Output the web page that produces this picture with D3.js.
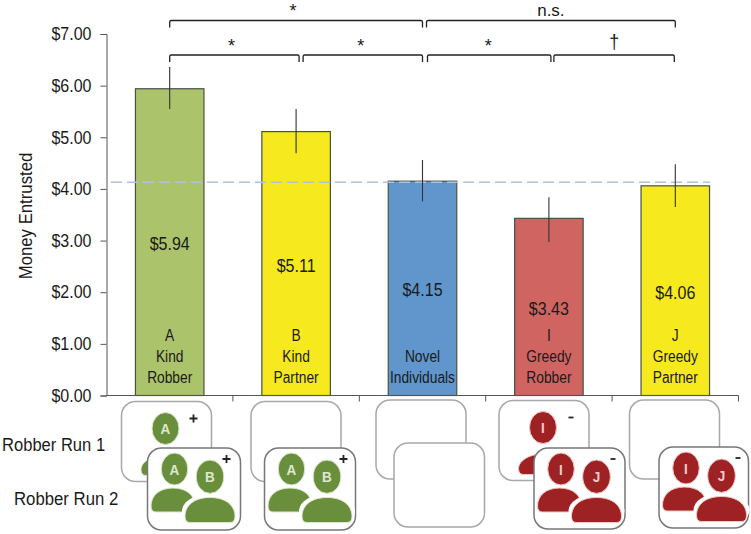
<!DOCTYPE html>
<html>
<head>
<meta charset="utf-8">
<script src="https://cdn.jsdelivr.net/npm/d3@7"></script>
<style>
html,body{margin:0;padding:0;background:#fff}
svg{display:block}
text{font-family:"Liberation Sans",sans-serif;fill:#1a1a1a}
</style>
</head>
<body>
<svg id="c" width="751" height="534"></svg>
<script>
const categories = ["A", "B", "Novel", "I", "J"];
const values = [5.94, 5.11, 4.15, 3.43, 4.06];
const errLow = [5.55, 4.69, 3.76, 2.97, 3.65];
const errHigh = [6.36, 5.55, 4.56, 3.84, 4.48];
const barColors = ["#abc46c", "#f6ea1e", "#6096cc", "#cf6461", "#f6ea1e"];
const labelLines = [["A","Kind","Robber"],["B","Kind","Partner"],["","Novel","Individuals"],["I","Greedy","Robber"],["J","Greedy","Partner"]];
const valueLabels = ["$5.94","$5.11","$4.15","$3.43","$4.06"];
const yTicks = [0,1,2,3,4,5,6,7];
const novelBaseline = 4.13;
const comparisons = [
  {from:0,to:2,level:0,label:"*",off:[0,0],dx:-3},
  {from:2,to:4,level:0,label:"n.s.",off:[4,0],dx:0},
  {from:0,to:1,level:1,label:"*",off:[0,3],dx:-3},
  {from:1,to:2,level:1,label:"*",off:[7,0],dx:-2},
  {from:2,to:3,level:1,label:"*",off:[5,2],dx:-1},
  {from:3,to:4,level:1,label:"†",off:[5,-1],dx:0}
];
const run1Letters = ["A", "", "", "I", ""];
const run1Signs = ["+", "", "", "-", ""];
const run2Letters = [["A","B"],["A","B"],[],["I","J"],["I","J"]];
const run2Signs = ["+","+","","-","-"];
const iconColors = ["#6a8f3c","#6a8f3c","","#9e2224","#9e2224"];
const iconHalos = ["#dfe8cf","#dfe8cf","","#f2c9c4","#f2c9c4"];

const svg = d3.select("#c");
const x = d3.scaleBand().domain(d3.range(categories.length)).range([106.5,738.5]).paddingInner(0.458).paddingOuter(0.229);
const y = d3.scaleLinear().domain([0,7]).range([395.5,34]);
const cx = i => x(i)+x.bandwidth()/2;
const axisColor = "#555";

// y axis
const gy = svg.append("g").attr("transform","translate(106.5,0)")
  .call(d3.axisLeft(y).tickValues(yTicks).tickFormat(d=>"$"+d.toFixed(2)).tickSize(6).tickPadding(9));
gy.selectAll("path,line").attr("stroke",axisColor);
gy.selectAll("text").attr("font-size",18).attr("fill","#1a1a1a").attr("data-sq",0.89).style("font-family",'"Liberation Sans"');

// bars
svg.append("g").selectAll("rect").data(values).join("rect")
  .attr("x",(d,i)=>x(i)).attr("y",d=>y(d))
  .attr("width",x.bandwidth()).attr("height",d=>y(0)-y(d))
  .attr("fill",(d,i)=>barColors[i]).attr("stroke","#4a5048").attr("stroke-width",1.2);

// x axis
const xTickPos = d3.range(categories.length+1).map(i=>106.5+i*x.step());
svg.append("line").attr("x1",106.5).attr("x2",738.5).attr("y1",y(0)).attr("y2",y(0)).attr("stroke",axisColor).attr("stroke-width",1.2);
svg.append("g").selectAll("line").data(xTickPos.slice(1)).join("line")
  .attr("x1",d=>d).attr("x2",d=>d).attr("y1",y(0)).attr("y2",y(0)+6).attr("stroke",axisColor);

// baseline
svg.append("line").attr("x1",111).attr("x2",710).attr("y1",y(novelBaseline)).attr("y2",y(novelBaseline))
  .attr("stroke","#a9c4dc").attr("stroke-width",1.5).attr("stroke-dasharray","11 5");

// error bars
svg.append("g").selectAll("line").data(values).join("line")
  .attr("x1",(d,i)=>cx(i)).attr("x2",(d,i)=>cx(i))
  .attr("y1",(d,i)=>y(errLow[i])).attr("y2",(d,i)=>y(errHigh[i]))
  .attr("stroke","#333").attr("stroke-width",1.1);

// value labels
svg.append("g").selectAll("text").data(values).join("text")
  .attr("x",(d,i)=>cx(i)).attr("y",d=>y(d/2)+8).attr("data-sq",0.89)
  .attr("text-anchor","middle").attr("font-size",18).text((d,i)=>valueLabels[i]);

// category labels
labelLines.forEach((lines,i)=>{
  lines.forEach((t,k)=>{
    if(!t) return;
    svg.append("text").attr("x",cx(i)).attr("y",341+k*21).attr("text-anchor","middle")
      .attr("font-size",16).attr("data-sq",0.86).text(t);
  });
});

// y title
svg.append("text").attr("transform","translate(32,216) rotate(-90)").attr("text-anchor","middle")
  .attr("font-size",18).attr("data-sq",0.93).text("Money Entrusted");

// brackets
const levelY = [20.5,55];
comparisons.forEach(c=>{
  const a = cx(c.from)+c.off[0], b = cx(c.to)+c.off[1], ly = levelY[c.level];
  svg.append("path").attr("d",`M${a},${ly+7}V${ly+1.5}Q${a},${ly} ${a+1.5},${ly}H${b-1.5}Q${b},${ly} ${b},${ly+1.5}V${ly+7}`)
    .attr("fill","none").attr("stroke","#222").attr("stroke-width",1.3);
  const t = svg.append("text").attr("x",(a+b)/2+c.dx).attr("text-anchor","middle");
  if(c.label==="n.s."){ t.attr("y",15.5).attr("font-size",17).text(c.label); }
  else if(c.label==="†"){ t.attr("y",49).attr("font-size",21).attr("data-sq",0.85).text(c.label); }
  else { t.attr("y",c.level?51.5:16.5).attr("font-size",18).text(c.label); }
});

// icons
function box(g,bx,by,w,h,stroke){
  g.append("rect").attr("x",bx).attr("y",by).attr("width",w).attr("height",h).attr("rx",14)
    .attr("fill","#fff").attr("stroke",stroke).attr("stroke-width",1.5);
}
function head(g,hx,hy,rx,ry,col,halo,letter){
  g.append("ellipse").attr("cx",hx).attr("cy",hy).attr("rx",rx).attr("ry",ry).attr("fill",col).attr("stroke",halo).attr("stroke-width",1);
  if(letter) g.append("text").attr("x",hx).attr("y",hy+5.5).attr("text-anchor","middle").attr("font-size",15)
    .attr("font-weight","bold").attr("data-sq",0.9).style("fill",halo).text(letter);
}
function sign(g,sx,sy,s){
  if(!s) return;
  if(s==="+") g.append("path").attr("d",`M${sx-4},${sy}H${sx+4}M${sx},${sy-4}V${sy+4}`).attr("stroke","#222").attr("stroke-width",1.8);
  else g.append("path").attr("d",`M${sx-2.5},${sy}H${sx+2.5}`).attr("stroke","#222").attr("stroke-width",1.8);
}
function body(g,a,b,top,bot,col,halo){
  const w=b-a;
  g.append("path").attr("fill",col).attr("stroke",halo).attr("stroke-width",1)
    .attr("d",`M${a},${bot-6}C${a},${top+8} ${a+w*0.18},${top} ${a+w*0.5},${top}C${a+w*0.82},${top} ${b},${top+8} ${b},${bot-6}Q${b},${bot} ${b-5},${bot}H${a+5}Q${a},${bot} ${a},${bot-6}Z`);
}
const run1Boxes = [[121.5,401.5],[251,401.5],[376,400],[499,400.5],[629.5,400]];
const run1H = [80,80,79,80,79];
const run2Boxes = [[147.5,448],[264.5,448],[394,443],[534,448],[659,447]];
const run2W = [93,91,90.5,91,89.5];
const run2H = [82,82,84,81,81];
const g = svg.append("g");
categories.forEach((c,i)=>{
  const [bx,by]=run1Boxes[i], col=iconColors[i], halo=iconHalos[i];
  box(g,bx,by,90,run1H[i],"#a8a8a8");
  if(run1Letters[i]){
    head(g,bx+44,by+27,13.5,16,col,halo,run1Letters[i]);
    body(g,bx+19.5,bx+69.5,by+53.5,by+74,col,halo);
    sign(g,bx+72,by+17,run1Signs[i]);
  }
});
categories.forEach((c,i)=>{
  const [bx,by]=run2Boxes[i], col=iconColors[i], halo=iconHalos[i];
  box(g,bx,by,run2W[i],run2H[i],i===2?"#a8a8a8":"#777");
  if(run2Letters[i].length){
    head(g,bx+27,by+21,13.3,16,col,halo,run2Letters[i][0]);
    body(g,bx+3.5,bx+47.5,by+40,by+64,col,halo);
    g.append("ellipse").attr("cx",bx+62.5).attr("cy",by+63).attr("rx",28).attr("ry",17).attr("fill","#fff");
    head(g,bx+62.5,by+28.7,13.8,16.7,col,halo,run2Letters[i][1]);
    body(g,bx+37.5,bx+87.5,by+49.5,by+74.5,col,halo);
    sign(g,bx+79,by+11,run2Signs[i]);
  }
});
// row labels
svg.append("text").attr("x",2).attr("y",450.5).attr("font-size",18).attr("data-sq",0.92).text("Robber Run 1");
svg.append("text").attr("x",14).attr("y",505).attr("font-size",18).attr("data-sq",0.93).text("Robber Run 2");

// condensed letterforms: the reference face is narrower than the installed ones
svg.selectAll("text[data-sq]").each(function(){
  const L=this.getComputedTextLength();
  d3.select(this).attr("textLength",L*(+this.getAttribute("data-sq"))).attr("lengthAdjust","spacingAndGlyphs");
});
</script>
</body>
</html>
